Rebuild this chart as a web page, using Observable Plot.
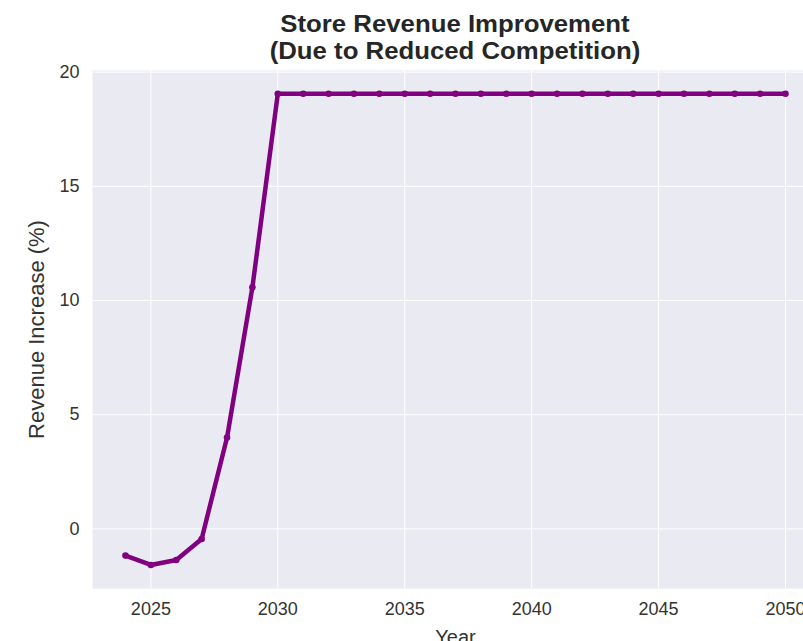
<!DOCTYPE html>
<html>
<head>
<meta charset="utf-8">
<script src="https://cdn.jsdelivr.net/npm/d3@7"></script>
<script src="https://cdn.jsdelivr.net/npm/@observablehq/plot@0.6"></script>
<style>
  html, body { margin: 0; padding: 0; background: #fff; overflow: hidden; width: 803px; height: 641px; }
  #wrap { position: relative; width: 830px; font-family: "Liberation Sans", Arial, sans-serif; }
  #title { position: relative; height: 62px; }
  #title div { position: absolute; left: 255px; width: 400px; text-align: center; font-weight: bold;
               font-size: 23px; color: #262626; transform: scaleX(1.12); transform-origin: 200px 50%; white-space: nowrap; }
</style>
</head>
<body>
<div id="wrap">
  <div id="title">
    <div style="top: 11px;">Store Revenue Improvement</div>
    <div style="top: 38px;">(Due to Reduced Competition)</div>
  </div>
  <div id="chart"></div>
</div>
<script>
const years = [2024, 2025, 2026, 2027, 2028, 2029, 2030, 2031, 2032, 2033, 2034, 2035, 2036, 2037, 2038, 2039, 2040, 2041, 2042, 2043, 2044, 2045, 2046, 2047, 2048, 2049, 2050];
const revenueIncrease = [-1.17, -1.58, -1.36, -0.44, 4.0, 10.58, 19.05, 19.05, 19.05, 19.05, 19.05, 19.05, 19.05, 19.05, 19.05, 19.05, 19.05, 19.05, 19.05, 19.05, 19.05, 19.05, 19.05, 19.05, 19.05, 19.05, 19.05];
const xTicks = [2025, 2030, 2035, 2040, 2045, 2050];
const yTicks = [0, 5, 10, 15, 20];

const data = years.map((y, i) => ({year: y, value: revenueIncrease[i]}));

const chart = Plot.plot({
  width: 830,
  height: 600,
  marginTop: 8,
  marginLeft: 92,
  marginRight: 12,
  marginBottom: 74,
  style: {fontFamily: '"Liberation Sans", Arial, sans-serif', fontSize: "18px", color: "#333", background: "transparent"},
  x: {domain: [2022.7, 2051.3], ticks: xTicks, tickFormat: d => String(d), label: null},
  y: {domain: [-2.61, 20.07], ticks: yTicks, label: null},
  marks: [
    Plot.frame({fill: "#EAEAF2", stroke: null}),
    Plot.gridX(xTicks, {stroke: "#fff", strokeOpacity: 1, strokeWidth: 1}),
    Plot.gridY(yTicks, {stroke: "#fff", strokeOpacity: 1, strokeWidth: 1}),
    Plot.axisX(xTicks, {tickSize: 0, tickPadding: 14, tickFormat: d => String(d), label: "Year", labelAnchor: "center", labelArrow: "none", labelOffset: 55, fontSize: 18}),
    Plot.axisY(yTicks, {tickSize: 0, tickPadding: 13, label: "Revenue Increase (%)", labelAnchor: "center", labelArrow: "none", labelOffset: 64, fontSize: 18}),
    Plot.line(data, {x: "year", y: "value", stroke: "#800080", strokeWidth: 4.5, strokeLinejoin: "round", strokeLinecap: "round"}),
    Plot.dot(data, {x: "year", y: "value", fill: "#800080", r: 3.3, stroke: null})
  ]
});
document.getElementById("chart").appendChild(chart);
chart.querySelectorAll('g[aria-label="x-axis label"] text').forEach(t => t.style.fontSize = "20px");
chart.querySelectorAll('g[aria-label="y-axis label"] text').forEach(t => t.style.fontSize = "22px");
</script>
</body>
</html>
